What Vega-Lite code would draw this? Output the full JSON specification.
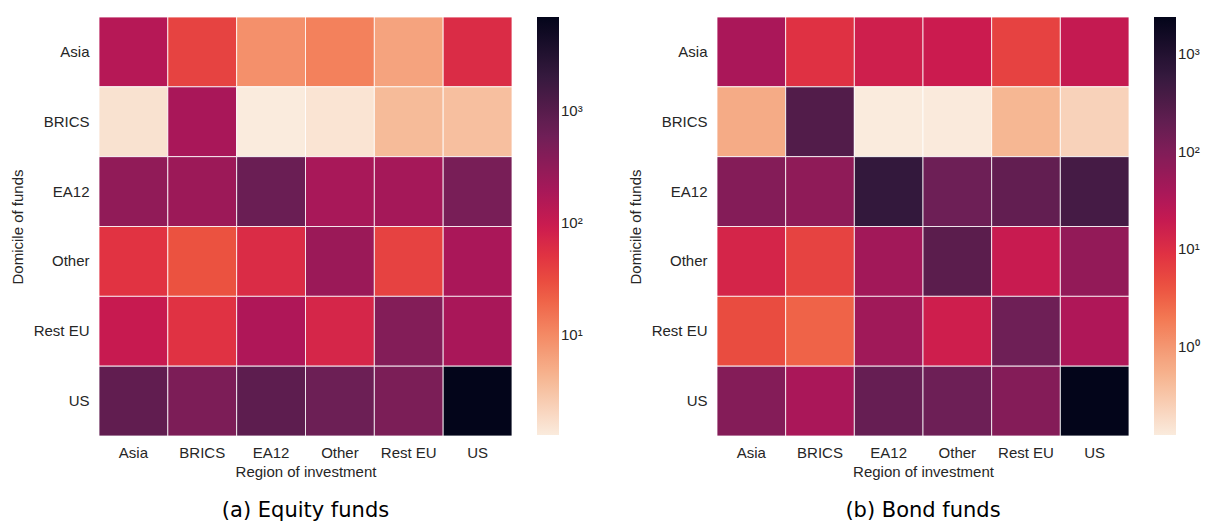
{
  "$schema": "https://vega.github.io/schema/vega-lite/v6.json",
  "background": "white",
  "padding": {"left": 10, "top": 16, "right": 5, "bottom": 5},
  "datasets": {
    "equity": [
      {"dom": "Asia", "reg": "Asia", "v": 145}, {"dom": "Asia", "reg": "BRICS", "v": 36.5}, {"dom": "Asia", "reg": "EA12", "v": 8.9}, {"dom": "Asia", "reg": "Other", "v": 11.9}, {"dom": "Asia", "reg": "Rest EU", "v": 6.1}, {"dom": "Asia", "reg": "US", "v": 61},
      {"dom": "BRICS", "reg": "Asia", "v": 1.56}, {"dom": "BRICS", "reg": "BRICS", "v": 187}, {"dom": "BRICS", "reg": "EA12", "v": 1.28}, {"dom": "BRICS", "reg": "Other", "v": 1.49}, {"dom": "BRICS", "reg": "Rest EU", "v": 3.75}, {"dom": "BRICS", "reg": "US", "v": 3.41},
      {"dom": "EA12", "reg": "Asia", "v": 311}, {"dom": "EA12", "reg": "BRICS", "v": 248}, {"dom": "EA12", "reg": "EA12", "v": 668}, {"dom": "EA12", "reg": "Other", "v": 192}, {"dom": "EA12", "reg": "Rest EU", "v": 204}, {"dom": "EA12", "reg": "US", "v": 503},
      {"dom": "Other", "reg": "Asia", "v": 51.5}, {"dom": "Other", "reg": "BRICS", "v": 27.3}, {"dom": "Other", "reg": "EA12", "v": 61}, {"dom": "Other", "reg": "Other", "v": 253}, {"dom": "Other", "reg": "Rest EU", "v": 37.5}, {"dom": "Other", "reg": "US", "v": 184},
      {"dom": "Rest EU", "reg": "Asia", "v": 102}, {"dom": "Rest EU", "reg": "BRICS", "v": 52.5}, {"dom": "Rest EU", "reg": "EA12", "v": 167}, {"dom": "Rest EU", "reg": "Other", "v": 71.5}, {"dom": "Rest EU", "reg": "Rest EU", "v": 409}, {"dom": "Rest EU", "reg": "US", "v": 187},
      {"dom": "US", "reg": "Asia", "v": 807}, {"dom": "US", "reg": "BRICS", "v": 466}, {"dom": "US", "reg": "EA12", "v": 879}, {"dom": "US", "reg": "Other", "v": 645}, {"dom": "US", "reg": "Rest EU", "v": 473}, {"dom": "US", "reg": "US", "v": 6900}
    ],
    "bond": [
      {"dom": "Asia", "reg": "Asia", "v": 38}, {"dom": "Asia", "reg": "BRICS", "v": 9.2}, {"dom": "Asia", "reg": "EA12", "v": 15.6}, {"dom": "Asia", "reg": "Other", "v": 17.4}, {"dom": "Asia", "reg": "Rest EU", "v": 6.1}, {"dom": "Asia", "reg": "US", "v": 20.6},
      {"dom": "BRICS", "reg": "Asia", "v": 0.64}, {"dom": "BRICS", "reg": "BRICS", "v": 292}, {"dom": "BRICS", "reg": "EA12", "v": 0.127}, {"dom": "BRICS", "reg": "Other", "v": 0.13}, {"dom": "BRICS", "reg": "Rest EU", "v": 0.48}, {"dom": "BRICS", "reg": "US", "v": 0.237},
      {"dom": "EA12", "reg": "Asia", "v": 90}, {"dom": "EA12", "reg": "BRICS", "v": 70}, {"dom": "EA12", "reg": "EA12", "v": 618}, {"dom": "EA12", "reg": "Other", "v": 153}, {"dom": "EA12", "reg": "Rest EU", "v": 203}, {"dom": "EA12", "reg": "US", "v": 397},
      {"dom": "Other", "reg": "Asia", "v": 12.9}, {"dom": "Other", "reg": "BRICS", "v": 5.9}, {"dom": "Other", "reg": "EA12", "v": 45}, {"dom": "Other", "reg": "Other", "v": 240}, {"dom": "Other", "reg": "Rest EU", "v": 18.5}, {"dom": "Other", "reg": "US", "v": 64},
      {"dom": "Rest EU", "reg": "Asia", "v": 4.8}, {"dom": "Rest EU", "reg": "BRICS", "v": 3.0}, {"dom": "Rest EU", "reg": "EA12", "v": 48}, {"dom": "Rest EU", "reg": "Other", "v": 15.8}, {"dom": "Rest EU", "reg": "Rest EU", "v": 151}, {"dom": "Rest EU", "reg": "US", "v": 33.6},
      {"dom": "US", "reg": "Asia", "v": 90}, {"dom": "US", "reg": "BRICS", "v": 38}, {"dom": "US", "reg": "EA12", "v": 181}, {"dom": "US", "reg": "Other", "v": 153}, {"dom": "US", "reg": "Rest EU", "v": 91}, {"dom": "US", "reg": "US", "v": 2375}
    ]
  },
  "config": {
    "view": {"stroke": null},
    "font": "Liberation Sans",
    "axis": {
      "domain": false, "ticks": false, "grid": false,
      "labelFont": "Liberation Sans", "labelFontSize": 15, "labelColor": "#262626",
      "titleFont": "Liberation Sans", "titleFontSize": 15, "titleColor": "#262626", "titleFontWeight": "normal"
    },
    "legend": {
      "labelFont": "Liberation Sans", "labelFontSize": 15, "labelColor": "#262626",
      "gradientLength": 418, "gradientThickness": 22, "offset": 25, "labelOffset": 8,
      "gradientStrokeWidth": 0
    },
    "title": {"font": "DejaVu Sans", "fontSize": 21, "fontWeight": "normal", "color": "#000000", "orient": "bottom", "anchor": "middle", "offset": 21}
  },
  "hconcat": [
    {
      "title": "(a) Equity funds",
      "width": 413, "height": 419,
      "data": {"name": "equity"},
      "mark": {"type": "rect", "stroke": "white", "strokeWidth": 0.8},
      "encoding": {
        "x": {"field": "reg", "type": "nominal", "sort": ["Asia", "BRICS", "EA12", "Other", "Rest EU", "US"], "title": "Region of investment", "axis": {"labelAngle": 0, "labelPadding": 9, "titlePadding": 4}},
        "y": {"field": "dom", "type": "nominal", "sort": ["Asia", "BRICS", "EA12", "Other", "Rest EU", "US"], "title": "Domicile of funds", "axis": {"labelPadding": 10, "titlePadding": 8}},
        "color": {
          "field": "v", "type": "quantitative",
          "scale": {"type": "log", "domain": [1.28, 6900], "range": ["#faebdd", "#f8cfb6", "#f6b48f", "#f49570", "#f37651", "#eb5140", "#e13342", "#cb1b4f", "#ad1759", "#8f1b58", "#701f57", "#531c4a", "#35193e", "#1c0f2c", "#03051a"], "interpolate": "rgb"},
          "legend": {"title": null, "values": [10, 100, 1000], "labelExpr": "datum.value == 10 ? '10¹' : datum.value == 100 ? '10²' : '10³'"}
        }
      }
    },
    {
      "title": "(b) Bond funds",
      "width": 412, "height": 419,
      "data": {"name": "bond"},
      "mark": {"type": "rect", "stroke": "white", "strokeWidth": 0.8},
      "encoding": {
        "x": {"field": "reg", "type": "nominal", "sort": ["Asia", "BRICS", "EA12", "Other", "Rest EU", "US"], "title": "Region of investment", "axis": {"labelAngle": 0, "labelPadding": 9, "titlePadding": 4}},
        "y": {"field": "dom", "type": "nominal", "sort": ["Asia", "BRICS", "EA12", "Other", "Rest EU", "US"], "title": "Domicile of funds", "axis": {"labelPadding": 10, "titlePadding": 8}},
        "color": {
          "field": "v", "type": "quantitative",
          "scale": {"type": "log", "domain": [0.127, 2375], "range": ["#faebdd", "#f8cfb6", "#f6b48f", "#f49570", "#f37651", "#eb5140", "#e13342", "#cb1b4f", "#ad1759", "#8f1b58", "#701f57", "#531c4a", "#35193e", "#1c0f2c", "#03051a"], "interpolate": "rgb"},
          "legend": {"title": null, "values": [1, 10, 100, 1000], "labelExpr": "datum.value == 1 ? '10⁰' : datum.value == 10 ? '10¹' : datum.value == 100 ? '10²' : '10³'"}
        }
      }
    }
  ],
  "resolve": {"scale": {"color": "independent"}},
  "spacing": 45
}
